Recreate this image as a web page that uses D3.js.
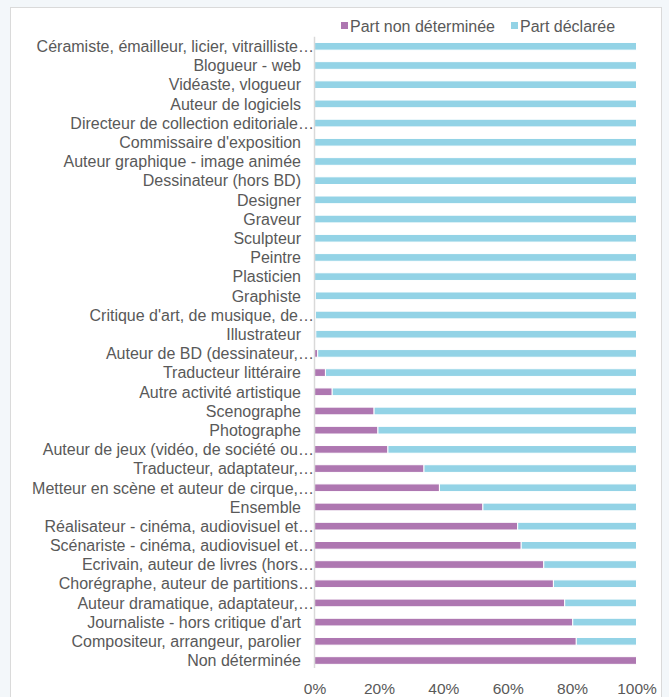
<!DOCTYPE html>
<html>
<head>
<meta charset="utf-8">
<script src="https://cdn.jsdelivr.net/npm/d3@7"></script>
<style>
  html, body { margin: 0; padding: 0; background: #f3f7fa; }
  svg { display: block; }
  text { font-family: "Liberation Sans", Arial, sans-serif; fill: #595959; }
</style>
</head>
<body>
<svg id="chart" width="669" height="697"></svg>
<script>
const categories = [
  "Céramiste, émailleur, licier, vitrailliste…",
  "Blogueur - web",
  "Vidéaste, vlogueur",
  "Auteur de logiciels",
  "Directeur de collection editoriale…",
  "Commissaire d'exposition",
  "Auteur graphique - image animée",
  "Dessinateur (hors BD)",
  "Designer",
  "Graveur",
  "Sculpteur",
  "Peintre",
  "Plasticien",
  "Graphiste",
  "Critique d'art, de musique, de…",
  "Illustrateur",
  "Auteur de BD (dessinateur,…",
  "Traducteur littéraire",
  "Autre activité artistique",
  "Scenographe",
  "Photographe",
  "Auteur de jeux (vidéo, de société ou…",
  "Traducteur, adaptateur,…",
  "Metteur en scène et auteur de cirque,…",
  "Ensemble",
  "Réalisateur - cinéma, audiovisuel et…",
  "Scénariste - cinéma, audiovisuel et…",
  "Ecrivain, auteur de livres (hors…",
  "Chorégraphe, auteur de partitions…",
  "Auteur dramatique, adaptateur,…",
  "Journaliste - hors critique d'art",
  "Compositeur, arrangeur, parolier",
  "Non déterminée"
];
const partNonDeterminee = [
  0, 0, 0, 0, 0, 0, 0, 0, 0, 0, 0, 0, 0,
  0.3, 0.3, 0.4, 1.0, 3.4, 5.5, 18.5, 19.7, 22.8, 34.0, 38.8,
  52.3, 63.1, 64.2, 71.2, 74.2, 77.7, 80.2, 81.3, 100
];
const partDeclaree = [
  100, 100, 100, 100, 100, 100, 100, 100, 100, 100, 100, 100, 100,
  99.7, 99.7, 99.6, 99.0, 96.6, 94.5, 81.5, 80.3, 77.2, 66.0, 61.2,
  47.7, 36.9, 35.8, 28.8, 25.8, 22.3, 19.8, 18.7, 0
];
const seriesNames = ["Part non déterminée", "Part déclarée"];
const seriesColors = ["#ae77b1", "#93d3e6"];
const tickValues = [0, 0.2, 0.4, 0.6, 0.8, 1.0];

const svg = d3.select("#chart");

// panel
svg.append("rect")
  .attr("x", 10.5).attr("y", 7.5)
  .attr("width", 651).attr("height", 700)
  .attr("fill", "#ffffff")
  .attr("stroke", "#dadada").attr("stroke-width", 1);

const x = d3.scaleLinear().domain([0, 1]).range([314.5, 636.5]);
const y = d3.scaleBand().domain(categories).range([36.7, 670.1]).paddingInner(0.6).paddingOuter(0.3);

const rows = categories.map((c, i) => ({
  cat: c,
  nd: partNonDeterminee[i] / 100,
  de: partDeclaree[i] / 100
}));

const g = svg.append("g");

g.selectAll("rect.nd")
  .data(rows)
  .join("rect")
  .attr("class", "nd")
  .attr("x", d => x(0))
  .attr("y", d => y(d.cat))
  .attr("width", d => x(d.nd) - x(0))
  .attr("height", y.bandwidth())
  .attr("fill", seriesColors[0])
  .attr("stroke", "#ffffff").attr("stroke-width", 1);

g.selectAll("rect.de")
  .data(rows)
  .join("rect")
  .attr("class", "de")
  .attr("x", d => x(d.nd))
  .attr("y", d => y(d.cat))
  .attr("width", d => x(d.nd + d.de) - x(d.nd))
  .attr("height", y.bandwidth())
  .attr("fill", seriesColors[1])
  .attr("stroke", "#ffffff").attr("stroke-width", 1);

svg.append("line")
  .attr("x1", 314.5).attr("x2", 314.5)
  .attr("y1", 36.7).attr("y2", 668)
  .attr("stroke", "#d9d9d9").attr("stroke-width", 1.5);

svg.append("g").selectAll("text")
  .data(categories)
  .join("text")
  .attr("x", d => d.endsWith("…") ? 314 : 301)
  .attr("y", d => y(d) + y.bandwidth() / 2)
  .attr("dy", "0.36em")
  .attr("text-anchor", "end")
  .style("font-size", "16px")
  .text(d => d);

const xAxis = d3.axisBottom(x).tickValues(tickValues).tickFormat(d3.format(".0%")).tickSize(0).tickPadding(0);
const ax = svg.append("g").attr("transform", "translate(0,683)").call(xAxis);
ax.select(".domain").remove();
ax.selectAll("text")
  .attr("dy", "0.71em")
  .style("font-size", "15.5px")
  .style("font-family", "\"Liberation Sans\", Arial, sans-serif")
  .attr("fill", "#595959");

const legend = svg.append("g");
const legItems = [
  { name: seriesNames[0], color: seriesColors[0], sx: 341, tx: 350 },
  { name: seriesNames[1], color: seriesColors[1], sx: 511, tx: 520 }
];
legItems.forEach(it => {
  legend.append("rect").attr("x", it.sx).attr("y", 22).attr("width", 7).attr("height", 7).attr("fill", it.color);
  legend.append("text").attr("x", it.tx).attr("y", 26).attr("dy", "0.36em")
    .style("font-size", "16px").text(it.name);
});
</script>
</body>
</html>
